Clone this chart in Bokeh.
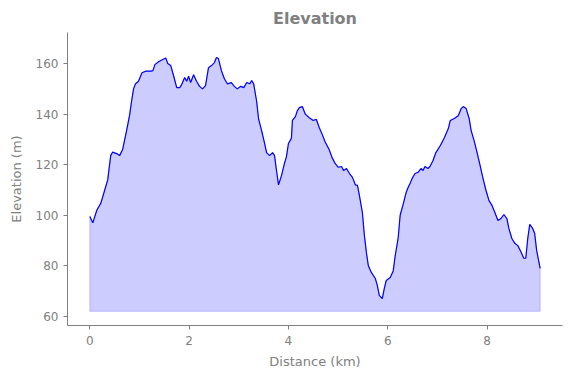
from bokeh.plotting import figure
from bokeh.models import Range1d, FixedTicker
from bokeh.embed import file_html
from bokeh.resources import INLINE

# Distance along route (km) and elevation (m)
distance_km = [0.00, 0.06, 0.14, 0.22, 0.30, 0.36, 0.42, 0.46, 0.54, 0.60, 0.66, 0.74, 0.80, 0.84,
               0.88, 0.92, 0.98, 1.05, 1.13, 1.23, 1.27, 1.31, 1.39, 1.47, 1.53, 1.57, 1.63, 1.69,
               1.75, 1.81, 1.85, 1.91, 1.95, 1.99, 2.03, 2.09, 2.15, 2.21, 2.27, 2.33, 2.39, 2.45,
               2.51, 2.55, 2.59, 2.65, 2.71, 2.77, 2.85, 2.91, 2.97, 3.04, 3.10, 3.16, 3.22, 3.26,
               3.30, 3.36, 3.40, 3.46, 3.52, 3.56, 3.62, 3.68, 3.72, 3.76, 3.80, 3.86, 3.92, 3.96,
               4.00, 4.06, 4.08, 4.14, 4.18, 4.22, 4.28, 4.34, 4.42, 4.50, 4.56, 4.62, 4.68, 4.74,
               4.82, 4.88, 4.94, 5.00, 5.07, 5.11, 5.17, 5.23, 5.29, 5.35, 5.39, 5.43, 5.49, 5.53,
               5.57, 5.61, 5.67, 5.75, 5.79, 5.83, 5.89, 5.93, 5.97, 6.05, 6.11, 6.15, 6.21, 6.25,
               6.31, 6.37, 6.41, 6.45, 6.49, 6.55, 6.61, 6.67, 6.71, 6.75, 6.81, 6.85, 6.91, 6.97,
               7.06, 7.14, 7.22, 7.26, 7.34, 7.42, 7.48, 7.52, 7.58, 7.64, 7.68, 7.74, 7.80, 7.86,
               7.92, 7.98, 8.04, 8.10, 8.16, 8.22, 8.28, 8.34, 8.40, 8.44, 8.50, 8.56, 8.62, 8.68,
               8.74, 8.78, 8.82, 8.86, 8.92, 8.96, 9.00, 9.07]
elevation_m = [99.5, 97.0, 102.0, 104.7, 110.0, 114.0, 123.6, 125.0, 124.4, 123.6, 126.0, 133.5, 139.5, 145.0,
               150.0, 152.0, 153.0, 156.4, 157.0, 157.0, 157.2, 159.6, 160.8, 161.6, 162.2, 160.0, 159.2, 155.0,
               150.5, 150.5, 151.7, 154.5, 153.0, 155.0, 152.5, 155.6, 153.0, 151.0, 150.0, 151.3, 158.4, 159.2,
               160.4, 162.4, 162.0, 157.2, 154.0, 152.0, 152.5, 151.0, 150.0, 151.0, 150.5, 152.5, 152.0, 153.3,
               152.0, 145.0, 138.0, 133.5, 128.4, 124.8, 123.6, 124.8, 123.6, 117.7, 112.0, 115.7, 120.5, 123.2,
               128.4, 130.4, 137.5, 139.0, 141.4, 142.6, 143.0, 140.0, 138.6, 137.5, 138.0, 134.7, 132.0, 129.0,
               126.0, 122.8, 120.5, 119.0, 119.3, 117.7, 118.5, 116.5, 115.0, 112.0, 111.8, 107.8, 101.0, 92.0,
               85.3, 80.0, 77.4, 75.0, 72.3, 68.3, 67.0, 71.0, 74.2, 75.4, 78.0, 84.0, 91.0, 100.0,
               104.3, 109.0, 111.0, 112.6, 114.5, 116.5, 117.0, 118.5, 117.7, 119.3, 118.5, 119.3, 121.6, 124.8,
               127.6, 130.7, 134.3, 137.5, 138.3, 139.4, 142.2, 143.0, 142.2, 138.3, 133.5, 129.5, 124.8, 119.7,
               114.5, 109.8, 105.8, 103.9, 101.0, 97.9, 98.7, 100.3, 98.7, 94.8, 90.8, 88.9, 88.0, 85.7,
               83.0, 83.0, 90.8, 96.4, 94.8, 92.8, 86.0, 79.0]
fill_base_m = 62.0
x_ticks = [0, 2, 4, 6, 8]
y_ticks = [60, 80, 100, 120, 140, 160]

GREY = "#808080"
FONT = "DejaVu Sans"

p = figure(width=571, height=378, output_backend="svg", toolbar_location=None,
           x_range=Range1d(-0.45, 9.52), y_range=Range1d(56.4, 172.3),
           title="Elevation", min_border_left=67, min_border_right=9,
           min_border_top=32, min_border_bottom=53)

p.varea(x=distance_km, y1=[fill_base_m] * len(distance_km), y2=elevation_m,
        fill_color="#0000ff", fill_alpha=0.2)
# faint outline of the filled area
p.line(x=[distance_km[0]] + distance_km + [distance_km[-1], distance_km[0]],
       y=[fill_base_m] + elevation_m + [fill_base_m, fill_base_m],
       line_color="#0000ff", line_alpha=0.2, line_width=1)
p.line(x=distance_km, y=elevation_m, line_color="#0000ff", line_width=1.2)

p.outline_line_color = None
p.xgrid.grid_line_color = None
p.ygrid.grid_line_color = None
p.background_fill_color = "white"

p.title.align = "center"
p.title.text_color = GREY
p.title.text_font = FONT
p.title.text_font_size = "16px"
p.title.text_font_style = "bold"

p.xaxis.ticker = FixedTicker(ticks=x_ticks)
p.yaxis.ticker = FixedTicker(ticks=y_ticks)
p.xaxis.axis_label = "Distance (km)"
p.yaxis.axis_label = "Elevation (m)"
for ax in (p.xaxis, p.yaxis):
    ax.axis_line_color = GREY
    ax.major_tick_line_color = GREY
    ax.minor_tick_line_color = None
    ax.major_tick_out = 4
    ax.major_tick_in = 0
    ax.major_label_text_color = GREY
    ax.major_label_text_font = FONT
    ax.major_label_text_font_size = "12px"
    ax.axis_label_text_color = GREY
    ax.axis_label_text_font = FONT
    ax.axis_label_text_font_size = "13px"
    ax.axis_label_text_font_style = "normal"
p.xaxis.major_label_standoff = 6
p.yaxis.major_label_standoff = 5
p.xaxis.axis_label_standoff = 6
p.yaxis.axis_label_standoff = 9

open("out.html", "w").write(file_html(p, INLINE))
